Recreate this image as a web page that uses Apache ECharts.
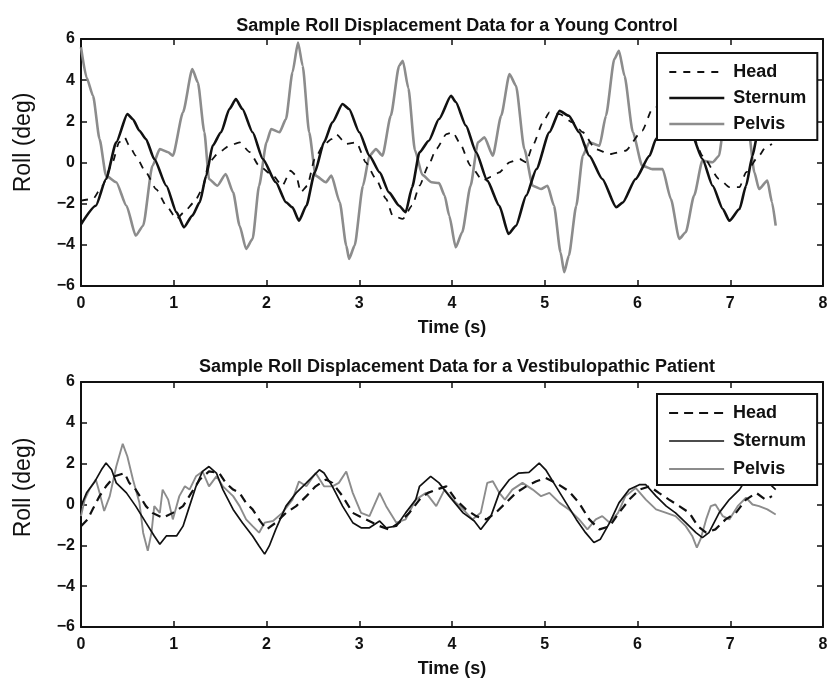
<!DOCTYPE html>
<html>
<head>
<meta charset="utf-8">
<title>Sample Roll Displacement Data</title>
<script src="https://cdn.jsdelivr.net/npm/echarts@6/dist/echarts.min.js"></script>
<style>
  html, body { margin: 0; padding: 0; background: #ffffff; }
  #chart { width: 832px; height: 679px; }
</style>
</head>
<body>
<div id="chart"></div>
<script>
// ---- Titles and series names ----
const titleControl = 'Sample Roll Displacement Data for a Young Control';
const titlePatient = 'Sample Roll Displacement Data for a Vestibulopathic Patient';
const seriesNames = ['Head', 'Sternum', 'Pelvis'];

// ---- Axis ranges (time in s, roll in deg) ----
const timeRange = [0, 8];
const rollRange = [-6, 6];

// ---- Young control: [time (s), roll (deg)] ----
const controlHead = [
  [0,-1.85],[0.13,-1.77],[0.23,-1.13],[0.34,0.01],[0.41,0.98],[0.47,1.22],[0.52,0.82],[0.59,0.33],
  [0.7,-0.48],[0.81,-1.29],[0.92,-2.1],[1.03,-2.74],[1.11,-2.42],[1.22,-1.93],[1.31,-1.29],[1.38,0.01],
  [1.49,0.5],[1.6,0.82],[1.71,0.98],[1.82,0.5],[1.92,-0.16],[2.07,-0.64],[2.17,-1.13],[2.26,-0.4],
  [2.32,-0.64],[2.37,-1.45],[2.44,-1.13],[2.52,0.17],[2.61,0.82],[2.7,1.14],[2.75,1.38],[2.86,0.9],
  [2.97,0.98],[3.07,0.01],[3.18,-0.8],[3.29,-1.77],[3.36,-2.58],[3.47,-2.74],[3.57,-2.1],[3.65,-1.13],
  [3.74,-0.2],[3.83,0.65],[3.94,1.38],[4.01,1.47],[4.08,0.98],[4.2,-0.15],[4.33,-0.88],[4.42,-0.7],
  [4.51,-0.48],[4.62,0.01],[4.73,0.17],[4.8,0.01],[4.87,0.82],[4.98,1.95],[5.05,2.44],[5.16,2.35],
  [5.3,1.95],[5.41,1.47],[5.55,0.65],[5.7,0.41],[5.87,0.57],[6.05,1.54],[6.16,2.6],[6.3,2.9],
  [6.45,2.2],[6.61,1.14],[6.7,0.33],[6.88,-0.8],[6.99,-1.2],[7.1,-1.2],[7.17,-0.48],[7.31,0.33],
  [7.38,0.74],[7.45,0.9]
];
const controlSternum = [
  [0,-3.0],[0.16,-2.1],[0.27,-0.8],[0.38,0.98],[0.5,2.35],[0.56,2.1],[0.63,1.54],[0.7,1.14],
  [0.79,0.17],[0.92,-1.13],[1.03,-2.42],[1.11,-3.15],[1.2,-2.58],[1.28,-1.93],[1.35,-0.64],[1.42,0.82],
  [1.51,1.47],[1.6,2.6],[1.67,3.08],[1.74,2.6],[1.85,1.47],[1.96,0.17],[2.1,-0.96],[2.21,-1.93],
  [2.28,-2.18],[2.35,-2.83],[2.43,-2.1],[2.52,-0.48],[2.62,0.98],[2.71,1.95],[2.82,2.84],[2.89,2.6],
  [3.0,1.47],[3.11,0.33],[3.22,-0.48],[3.32,-1.45],[3.43,-2.1],[3.5,-2.42],[3.57,-1.2],[3.65,0.5],
  [3.75,1.06],[3.86,2.11],[3.99,3.24],[4.04,2.94],[4.15,1.79],[4.26,0.5],[4.38,-0.88],[4.51,-2.1],
  [4.61,-3.47],[4.69,-3.07],[4.8,-1.61],[4.91,-0.32],[5.05,1.47],[5.16,2.51],[5.26,2.27],[5.37,1.47],
  [5.48,0.33],[5.62,-0.8],[5.77,-2.17],[5.84,-1.95],[5.98,-0.8],[6.13,0.33],[6.2,1.14],[6.3,2.2],
  [6.4,2.7],[6.5,2.2],[6.59,1.3],[6.7,0.17],[6.81,-1.13],[6.92,-2.26],[6.99,-2.83],[7.1,-2.26],
  [7.17,-1.13],[7.24,0.33],[7.29,1.3],[7.38,2.0],[7.48,2.5]
];
const controlPelvis = [
  [0,5.6],[0.06,4.13],[0.13,3.24],[0.2,1.14],[0.27,-0.64],[0.38,-0.96],[0.49,-2.1],[0.59,-3.55],
  [0.67,-3.07],[0.77,-0.16],[0.85,0.65],[0.94,0.5],[0.99,0.33],[1.1,2.44],[1.2,4.54],[1.26,3.89],
  [1.33,1.47],[1.38,-0.8],[1.47,-1.13],[1.56,-0.56],[1.64,-1.45],[1.71,-3.07],[1.78,-4.2],[1.85,-3.71],
  [1.92,-1.13],[2.0,0.98],[2.05,1.63],[2.14,1.47],[2.21,2.11],[2.28,4.38],[2.34,5.83],[2.39,4.7],
  [2.46,1.47],[2.53,-0.64],[2.64,-0.96],[2.7,-0.64],[2.79,-1.93],[2.86,-4.04],[2.89,-4.68],[2.95,-4.04],
  [3.04,-1.13],[3.11,0.33],[3.18,0.65],[3.25,0.33],[3.34,2.27],[3.43,4.7],[3.47,4.94],[3.53,3.6],
  [3.6,0.6],[3.68,-0.6],[3.78,-0.96],[3.86,-1.0],[3.92,-1.6],[3.97,-2.58],[4.04,-4.12],[4.11,-3.39],
  [4.2,-1.13],[4.28,0.98],[4.35,1.22],[4.44,0.33],[4.53,2.27],[4.62,4.3],[4.69,3.73],[4.78,0.65],
  [4.87,-1.13],[4.96,-1.29],[5.03,-1.13],[5.1,-2.1],[5.17,-4.36],[5.21,-5.33],[5.26,-4.52],[5.34,-2.1],
  [5.41,0.33],[5.48,0.98],[5.59,0.82],[5.66,2.27],[5.75,5.02],[5.8,5.43],[5.86,4.21],[5.95,1.47],
  [6.05,-0.15],[6.16,-0.32],[6.27,-0.32],[6.36,-1.77],[6.45,-3.71],[6.52,-3.39],[6.61,-1.61],[6.7,0.09],
  [6.81,0.01],[6.88,0.33],[6.92,1.47],[7.0,3.6],[7.06,4.2],[7.13,3.2],[7.2,1.47],[7.26,-0.48],
  [7.31,-1.29],[7.4,-0.88],[7.45,-1.93],[7.49,-3.07]
];

// ---- Vestibulopathic patient: [time (s), roll (deg)] ----
const patientHead = [
  [0,-1.06],[0.07,-0.73],[0.13,-0.2],[0.2,0.41],[0.27,0.89],[0.36,1.38],[0.47,1.54],[0.52,1.06],
  [0.59,0.73],[0.7,-0.08],[0.77,-0.41],[0.88,-0.65],[0.99,-0.41],[1.1,-0.08],[1.19,0.57],[1.28,1.22],
  [1.38,1.62],[1.49,1.54],[1.56,1.06],[1.64,0.73],[1.71,0.57],[1.78,0.08],[1.85,-0.24],[1.93,-0.8],
  [2.0,-1.22],[2.1,-0.89],[2.21,-0.41],[2.32,-0.08],[2.43,0.41],[2.53,0.89],[2.64,1.22],[2.71,1.06],
  [2.82,0.41],[2.93,-0.41],[3.07,-0.73],[3.22,-1.06],[3.32,-1.22],[3.43,-0.89],[3.54,-0.41],[3.65,0.24],
  [3.74,0.57],[3.83,0.73],[3.94,0.89],[4.04,0.24],[4.15,-0.24],[4.26,-0.57],[4.37,-0.73],[4.47,-0.41],
  [4.58,0.08],[4.69,0.57],[4.8,0.89],[4.91,1.14],[5.01,1.3],[5.12,1.06],[5.26,0.65],[5.37,0.08],
  [5.48,-0.73],[5.59,-1.22],[5.7,-1.06],[5.8,-0.41],[5.91,0.24],[6.02,0.73],[6.13,0.89],[6.23,0.57],
  [6.34,0.24],[6.45,-0.08],[6.56,-0.41],[6.65,-1.06],[6.74,-1.38],[6.84,-1.22],[6.95,-0.73],[7.06,-0.41],
  [7.17,0.24],[7.28,0.57],[7.38,0.24],[7.45,0.41]
];
const patientSternum = [
  [0,-0.08],[0.06,0.57],[0.15,1.13],[0.22,1.7],[0.27,2.03],[0.33,1.7],[0.38,1.06],[0.49,0.57],
  [0.59,-0.08],[0.7,-0.89],[0.79,-1.54],[0.85,-1.95],[0.92,-1.54],[1.03,-1.54],[1.1,-1.06],[1.17,-0.08],
  [1.24,0.89],[1.31,1.62],[1.38,1.86],[1.46,1.54],[1.53,0.73],[1.64,-0.24],[1.74,-0.89],[1.85,-1.54],
  [1.92,-2.03],[1.98,-2.43],[2.03,-2.03],[2.1,-1.22],[2.21,-0.08],[2.32,0.57],[2.43,1.06],[2.5,1.38],
  [2.57,1.7],[2.62,1.54],[2.71,0.89],[2.82,-0.08],[2.93,-0.89],[3.02,-1.14],[3.11,-1.14],[3.22,-0.81],
  [3.29,-1.14],[3.4,-1.06],[3.5,-0.41],[3.61,0.24],[3.65,0.89],[3.77,1.38],[3.86,1.06],[3.97,0.41],
  [4.12,-0.41],[4.24,-0.81],[4.31,-1.22],[4.42,-0.57],[4.51,0.57],[4.62,1.22],[4.72,1.54],[4.83,1.57],
  [4.94,2.03],[5.01,1.7],[5.12,0.89],[5.23,0.08],[5.34,-0.73],[5.44,-1.38],[5.53,-1.86],[5.6,-1.7],
  [5.7,-0.89],[5.8,0.08],[5.91,0.73],[6.02,0.97],[6.09,0.97],[6.2,0.41],[6.31,-0.08],[6.41,-0.41],
  [6.52,-0.89],[6.63,-1.38],[6.7,-1.62],[6.77,-1.38],[6.88,-0.41],[6.99,0.24],[7.1,0.73],[7.19,1.38],
  [7.28,1.7],[7.38,1.2],[7.49,0.73]
];
const patientPelvis = [
  [0,-0.57],[0.04,0.24],[0.09,0.73],[0.16,1.22],[0.2,0.57],[0.25,-0.32],[0.31,0.41],[0.38,1.86],
  [0.45,2.97],[0.5,2.35],[0.56,1.22],[0.63,0.08],[0.67,-1.38],[0.72,-2.27],[0.76,-1.38],[0.79,-0.08],
  [0.85,-0.41],[0.88,0.73],[0.94,0.24],[0.99,-0.73],[1.06,0.41],[1.12,0.89],[1.17,0.73],[1.24,1.38],
  [1.31,1.62],[1.38,0.89],[1.46,1.38],[1.53,0.89],[1.64,0.41],[1.71,-0.08],[1.78,-0.73],[1.85,-1.06],
  [1.92,-1.38],[1.98,-0.89],[2.07,-0.81],[2.17,-0.41],[2.28,0.24],[2.35,1.13],[2.43,0.89],[2.53,1.54],
  [2.62,0.89],[2.71,0.89],[2.78,1.06],[2.86,1.62],[2.93,0.57],[3.02,-0.41],[3.11,-0.57],[3.22,0.57],
  [3.29,-0.08],[3.4,-0.89],[3.5,-0.73],[3.61,0.24],[3.72,0.57],[3.83,-0.08],[3.92,0.73],[4.01,0.24],
  [4.12,-0.24],[4.22,-0.73],[4.31,-0.41],[4.38,1.06],[4.44,1.14],[4.51,0.57],[4.57,0.24],[4.65,0.73],
  [4.76,1.06],[4.87,0.73],[4.96,0.41],[5.05,0.57],[5.16,0.08],[5.26,-0.24],[5.37,-0.73],[5.46,-1.22],
  [5.55,-0.73],[5.62,-0.57],[5.7,-0.89],[5.79,-0.41],[5.87,0.41],[5.98,0.81],[6.09,0.24],[6.2,-0.24],
  [6.31,-0.41],[6.41,-0.57],[6.52,-1.06],[6.59,-1.54],[6.64,-2.11],[6.68,-1.7],[6.74,-0.73],[6.79,-0.08],
  [6.84,0],[6.92,-0.57],[6.99,-0.73],[7.08,-0.08],[7.17,0.33],[7.24,0],[7.31,-0.08],[7.4,-0.24],
  [7.49,-0.49]
];

// ---- Styling ----
const FONT = '"Liberation Sans", Arial, Helvetica, sans-serif';
const INK = '#111111';
const GREY = '#8c8c8c';
const CLEAR = 'rgba(0,0,0,0)';

const panels = [
  { top: 39, height: 247, title: titleControl, titleTop: 12, legendTop: 53, legendGap: 8, nameShift: 40,
    head: controlHead, sternum: controlSternum, pelvis: controlPelvis,
    headStyle: { color: INK, width: 1.8, type: [7, 7] },
    sternumStyle: { color: INK, width: 2.6, type: 'solid' },
    pelvisStyle: { color: GREY, width: 2.6, type: 'solid' }, smooth: 0.2 },
  { top: 382, height: 246, title: titlePatient, titleTop: 353, legendTop: 394, legendGap: 10, nameShift: 34,
    head: patientHead, sternum: patientSternum, pelvis: patientPelvis,
    headStyle: { color: INK, width: 2.2, type: [9, 6] },
    sternumStyle: { color: INK, width: 1.7, type: 'solid' },
    pelvisStyle: { color: GREY, width: 1.9, type: 'solid' }, smooth: 0 }
];

const minusSign = v => (v < 0 ? '\u2212' + Math.abs(v) : String(v));
const tickLabel = { fontFamily: FONT, fontSize: 16, fontWeight: 'bold', color: INK };

const option = {
  backgroundColor: '#ffffff',
  animation: false,
  title: [], legend: [], grid: [], xAxis: [], yAxis: [], series: []
};

panels.forEach((p, i) => {
  option.grid.push({ left: 81, width: 742, top: p.top, height: p.height, containLabel: false });

  option.title.push({
    text: p.title, left: 452, top: p.titleTop, textAlign: 'center',
    textStyle: { fontFamily: FONT, fontSize: 18, fontWeight: 'bold', color: INK }
  });

  // bottom and top x axes (box with inward ticks)
  option.xAxis.push({
    type: 'value', gridIndex: i, position: 'bottom',
    min: timeRange[0], max: timeRange[1], interval: 1,
    name: 'Time (s)', nameLocation: 'middle', nameGap: 33,
    nameTextStyle: { fontFamily: FONT, fontSize: 18, fontWeight: 'bold', color: INK },
    axisLine: { show: true, onZero: false, lineStyle: { color: INK, width: 2 } },
    axisTick: { show: true, inside: true, length: 6, lineStyle: { color: INK, width: 1.5 } },
    axisLabel: Object.assign({ margin: 10 }, tickLabel),
    splitLine: { show: false }
  });
  option.xAxis.push({
    type: 'value', gridIndex: i, position: 'top',
    min: timeRange[0], max: timeRange[1], interval: 1,
    axisLine: { show: true, onZero: false, lineStyle: { color: INK, width: 2 } },
    axisTick: { show: true, inside: true, length: 6, lineStyle: { color: INK, width: 1.5 } },
    axisLabel: { show: false }, splitLine: { show: false }
  });

  // left and right y axes
  option.yAxis.push({
    type: 'value', gridIndex: i, position: 'left',
    min: rollRange[0], max: rollRange[1], interval: 2,
    name: 'Roll (deg)', nameLocation: 'middle', nameGap: 46, nameRotate: 90,
    nameTextStyle: { fontFamily: FONT, fontSize: 23, color: INK, padding: [0, 0, 0, p.nameShift] },
    axisLine: { show: true, onZero: false, lineStyle: { color: INK, width: 2 } },
    axisTick: { show: true, inside: true, length: 6, lineStyle: { color: INK, width: 1.5 } },
    axisLabel: Object.assign({ margin: 6, formatter: minusSign }, tickLabel),
    splitLine: { show: false }
  });
  option.yAxis.push({
    type: 'value', gridIndex: i, position: 'right',
    min: rollRange[0], max: rollRange[1], interval: 2,
    axisLine: { show: true, onZero: false, lineStyle: { color: INK, width: 2 } },
    axisTick: { show: true, inside: true, length: 6, lineStyle: { color: INK, width: 1.5 } },
    axisLabel: { show: false }, splitLine: { show: false }
  });

  const styles = [p.headStyle, p.sternumStyle, p.pelvisStyle];
  const datasets = [p.head, p.sternum, p.pelvis];
  // draw pelvis first so the black traces sit above the grey one
  [2, 0, 1].forEach(k => {
    option.series.push({
      type: 'line', name: seriesNames[k],
      xAxisIndex: i * 2, yAxisIndex: i * 2,
      data: datasets[k], showSymbol: false, symbol: 'none',
      smooth: p.smooth, smoothMonotone: 'x',
      lineStyle: styles[k], itemStyle: { color: styles[k].color },
      emphasis: { disabled: true }, z: 2
    });
  });

  // legend keys are plain line samples (marker hidden)
  option.legend.push({
    show: true, orient: 'vertical', left: 657, top: p.legendTop,
    padding: [10, 11, 7, 11], itemGap: p.legendGap,
    itemWidth: 55, itemHeight: 16,
    backgroundColor: '#ffffff', borderColor: INK, borderWidth: 2, borderRadius: 0,
    selectedMode: false, z: 10,
    textStyle: { fontFamily: FONT, fontSize: 18, fontWeight: 'bold', color: INK,
                 lineHeight: 16, padding: [0, 0, 0, 4] },
    data: seriesNames.map((n, k) => ({
      name: n,
      itemStyle: { color: CLEAR, borderColor: CLEAR, borderWidth: 0 },
      lineStyle: { color: styles[k].color, width: styles[k].width, type: styles[k].type }
    }))
  });
});

const chart = echarts.init(document.getElementById('chart'), null, { renderer: 'canvas' });
chart.setOption(option);
</script>
</body>
</html>
